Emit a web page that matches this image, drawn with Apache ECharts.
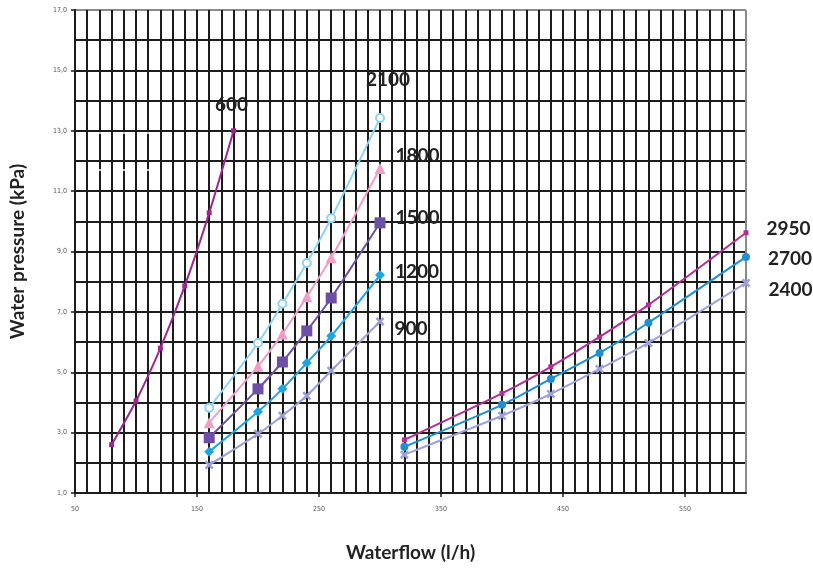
<!DOCTYPE html>
<html><head><meta charset="utf-8">
<script src="https://cdn.jsdelivr.net/npm/echarts@6/dist/echarts.min.js"></script>
<style>html,body{margin:0;padding:0;background:#fff}#c{width:813px;height:569px}</style>
</head><body><div id="c"></div>
<script>
// ---- data ----
const flowA = [80, 100, 120, 140, 160, 180];
const flowB = [160, 200, 220, 240, 260, 300];
const flowC = [320, 400, 440, 480, 520, 600];
const s600  = [2.6, 4.05, 5.8, 7.86, 10.28, 13.0];
const s900  = [1.93, 2.96, 3.56, 4.22, 5.05, 6.68];
const s1200 = [2.37, 3.69, 4.45, 5.31, 6.2, 8.22];
const s1500 = [2.83, 4.45, 5.34, 6.37, 7.46, 9.95];
const s1800 = [3.33, 5.2, 6.27, 7.5, 8.79, 11.75];
const s2100 = [3.82, 5.97, 7.27, 8.62, 10.1, 13.42];
const s2400 = [2.27, 3.56, 4.28, 5.11, 5.97, 7.96];
const s2700 = [2.53, 3.92, 4.78, 5.64, 6.64, 8.82];
const s2950 = [2.76, 4.3, 5.18, 6.17, 7.23, 9.62];
const xLabels = [50, 150, 250, 350, 450, 550];
const yLabels = [1, 3, 5, 7, 9, 11, 13, 15, 17];
const xTitle = 'Waterflow (l/h)';
const yTitle = 'Water pressure (kPa)';

const pairs = (xs, ys) => xs.map((x, i) => [x, ys[i]]);
const XMARK = 'path://M2,0L5,3L8,0L10,2L7,5L10,8L8,10L5,7L2,10L0,8L3,5L0,2Z';
const labFont = {fontFamily: 'Lato', fontWeight: 'bold', fontSize: 19, color: '#222'};
const tickFont = {fontFamily: 'DejaVu Sans Condensed', fontSize: 7, color: '#555'};

function mk(name, xs, ys, color, symbol, size, lab) {
  const data = pairs(xs, ys).map((p, i) => {
    if (i !== ys.length - 1) return p;
    return {value: p, label: Object.assign({show: true, formatter: name}, labFont, lab)};
  });
  return {
    type: 'line', name, data, smooth: 0.25, clip: false,
    symbol, symbolSize: size, showAllSymbol: true,
    lineStyle: {color, width: 2},
    itemStyle: {color, borderWidth: symbol === 'emptyCircle' ? 2 : 0},
    z: 5
  };
}

const xN = (600 - 50) / 10 + 1;
const xColors = Array.from({length: xN}, (_, i) => i === xN - 1 ? '#8a8a8a' : '#1c1c1c');
const yColors = Array.from({length: 17}, (_, i) => i === 16 ? '#8a8a8a' : '#1c1c1c');
const hide = {show: false};

const chart = echarts.init(document.getElementById('c'), null, {renderer: 'canvas'});
chart.setOption({
  animation: false,
  backgroundColor: '#fff',
  grid: {left: 75, right: 67, top: 10, bottom: 76},
  xAxis: [{
    type: 'value', min: 50, max: 600, interval: 10,
    name: xTitle, nameLocation: 'middle', nameGap: 50,
    nameTextStyle: {fontFamily: 'Lato', fontWeight: 'bold', fontSize: 19, color: '#222'},
    axisLine: {show: true, lineStyle: {color: '#1c1c1c', width: 2}},
    axisTick: hide, axisLabel: hide,
    splitLine: {show: true, lineStyle: {color: xColors, width: 2}}
  }, {
    type: 'value', min: 50, max: 600, position: 'bottom',
    axisLine: hide, splitLine: hide,
    axisTick: {show: true, customValues: xLabels, length: 4, lineStyle: {color: '#1c1c1c', width: 1.5}},
    axisLabel: Object.assign({customValues: xLabels, margin: 13}, tickFont)
  }],
  yAxis: [{
    type: 'value', min: 1, max: 17, interval: 1,
    name: yTitle, nameLocation: 'middle', nameGap: 48, nameRotate: 90,
    nameTextStyle: {fontFamily: 'Lato', fontWeight: 'bold', fontSize: 19, color: '#222'},
    axisLine: {show: true, lineStyle: {color: '#1c1c1c', width: 2}},
    axisTick: hide, axisLabel: hide,
    splitLine: {show: true, lineStyle: {color: yColors, width: 2}}
  }, {
    type: 'value', min: 1, max: 17, position: 'left',
    axisLine: hide, splitLine: hide,
    axisTick: {show: true, customValues: yLabels, length: 4, lineStyle: {color: '#1c1c1c', width: 1.5}},
    axisLabel: Object.assign({customValues: yLabels, margin: 8,
      formatter: v => v.toFixed(1).replace('.', ',')}, tickFont)
  }],
  graphic: [
    {type: 'line', shape: {x1: 98, y1: 133, x2: 158, y2: 133}, style: {stroke: '#fff', lineWidth: 1.5, lineDash: [5, 3]}, z: 10},
    {type: 'line', shape: {x1: 98, y1: 170, x2: 150, y2: 170}, style: {stroke: '#fff', lineWidth: 1.5, lineDash: [5, 3]}, z: 10}
  ],
  series: [
    mk('600', flowA, s600, '#A0268F', 'rect', 5, {position: 'top', distance: 14, offset: [-2, 0]}),
    mk('900', flowB, s900, '#9A9ED8', XMARK, 9, {position: 'right', distance: 10, offset: [0, 7]}),
    mk('1200', flowB, s1200, '#1CA5E0', 'diamond', 10, {position: 'right', distance: 10, offset: [0, -3]}),
    mk('1500', flowB, s1500, '#6D50A3', 'rect', 11, {position: 'right', distance: 10, offset: [0, -5]}),
    mk('1800', flowB, s1800, '#F09EC6', 'triangle', 11, {position: 'right', distance: 10, offset: [0, -13]}),
    mk('2100', flowB, s2100, '#8FD3F2', 'emptyCircle', 8, {position: 'top', distance: 24, offset: [8, 0]}),
    mk('2400', flowC, s2400, '#9EA2DA', XMARK, 9, {position: 'right', distance: 18, offset: [0, 7]}),
    mk('2700', flowC, s2700, '#1E90D2', 'circle', 8, {position: 'right', distance: 18, offset: [0, 2]}),
    mk('2950', flowC, s2950, '#B62E8E', 'rect', 5, {position: 'right', distance: 18, offset: [0, -4]})
  ]
});
</script></body></html>
